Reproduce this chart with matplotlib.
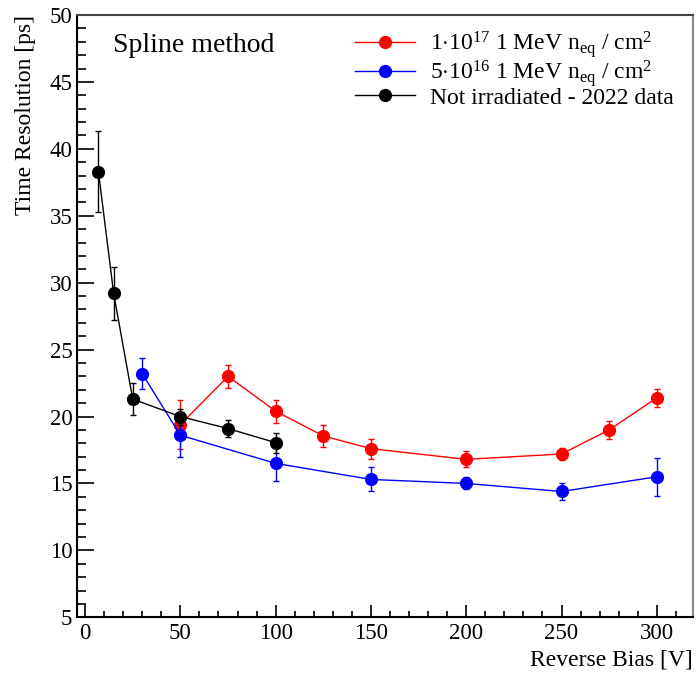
import matplotlib
matplotlib.use("Agg")
import matplotlib.pyplot as plt
from matplotlib.ticker import MultipleLocator
from matplotlib.lines import Line2D

plt.rcParams['font.family'] = ['Liberation Serif', 'DejaVu Serif']
plt.rcParams['mathtext.fontset'] = 'custom'
plt.rcParams['mathtext.rm'] = 'Liberation Serif'
plt.rcParams['mathtext.it'] = 'Liberation Serif:italic'

# Data
red_x = [50, 75, 100, 125, 150, 200, 250, 275, 300]
red_y = [19.4, 23.0, 20.4, 18.55, 17.6, 16.8, 17.2, 19.0, 21.4]
red_err = [1.85, 0.87, 0.87, 0.8, 0.75, 0.6, 0.45, 0.65, 0.66]

blue_x = [30, 50, 100, 150, 200, 250, 300]
blue_y = [23.2, 18.6, 16.5, 15.3, 15.0, 14.4, 15.5]
blue_err = [1.15, 1.65, 1.3, 0.9, 0.45, 0.62, 1.42]

black_x = [7, 15, 25, 50, 75, 100]
black_y = [38.3, 29.2, 21.3, 20.0, 19.1, 18.05]
black_err = [3.0, 2.0, 1.2, 0.6, 0.65, 0.75]

labels = [r"1$\cdot$10$^{17}$ 1 MeV n$_{\mathrm{eq}}$ / cm$^{2}$",
          r"5$\cdot$10$^{16}$ 1 MeV n$_{\mathrm{eq}}$ / cm$^{2}$",
          "Not irradiated - 2022 data"]
colors = ['#ff0000', '#0000ff', 'black']

W, H = 697, 673
fig = plt.figure(figsize=(W / 100, H / 100), dpi=100)
ax = fig.add_axes([76.5 / W, 1 - 617.3 / H, (693 - 76.5) / W, (617.3 - 15) / H])

common = dict(marker='o', markersize=8.5, linewidth=1.0, elinewidth=1.0,
              capsize=2, capthick=1.0)
ax.errorbar(red_x, red_y, yerr=red_err, color=colors[0], zorder=3, **common)
ax.errorbar(blue_x, blue_y, yerr=blue_err, color=colors[1], zorder=4, **common)
ax.errorbar(black_x, black_y, yerr=black_err, color=colors[2], zorder=5, **common)

ax.set_xlim(-4.5, 319)
ax.set_ylim(5, 50)
ax.xaxis.set_major_locator(MultipleLocator(50))
ax.xaxis.set_minor_locator(MultipleLocator(10))
ax.yaxis.set_major_locator(MultipleLocator(5))
ax.yaxis.set_minor_locator(MultipleLocator(1))
ax.tick_params(axis='y', which='major', direction='in', length=12.5, width=1.2, labelsize=16.5, pad=3)
ax.tick_params(axis='y', which='minor', direction='in', length=6.5, width=1.2)
ax.tick_params(axis='x', which='major', direction='in', length=9, width=1.2, labelsize=16.5, pad=4)
ax.tick_params(axis='x', which='minor', direction='in', length=4.5, width=1.2)
ax.tick_params(top=False, right=False, which='both')

for s in ['left', 'bottom']:
    ax.spines[s].set_linewidth(1.5)
    ax.spines[s].set_color('black')
ax.spines['top'].set_color('#444444')
ax.spines['top'].set_linewidth(1.5)
ax.spines['right'].set_color('#888888')
ax.spines['right'].set_linewidth(1.5)

ax.set_xlabel("Reverse Bias [V]", fontsize=17, loc='right', labelpad=4)
ax.set_ylabel("Time Resolution [ps]", fontsize=17, loc='top', labelpad=10)

fig.text(113 / W, 1 - 45 / H, "Spline method", fontsize=20, va='center', ha='left')

handles = [Line2D([], [], color=c, marker='o', markersize=8.5, linewidth=1.0) for c in colors]
leg = ax.legend(handles=handles, labels=labels, loc='upper left',
                bbox_to_anchor=((355 - 76.5) / (693 - 76.5), 1 - (29 - 15) / (617.3 - 15)),
                frameon=False, fontsize=17, handlelength=2.55, handletextpad=0.62,
                labelspacing=-0.08, borderaxespad=0, borderpad=0)

fig.savefig("out.png", dpi=100)
